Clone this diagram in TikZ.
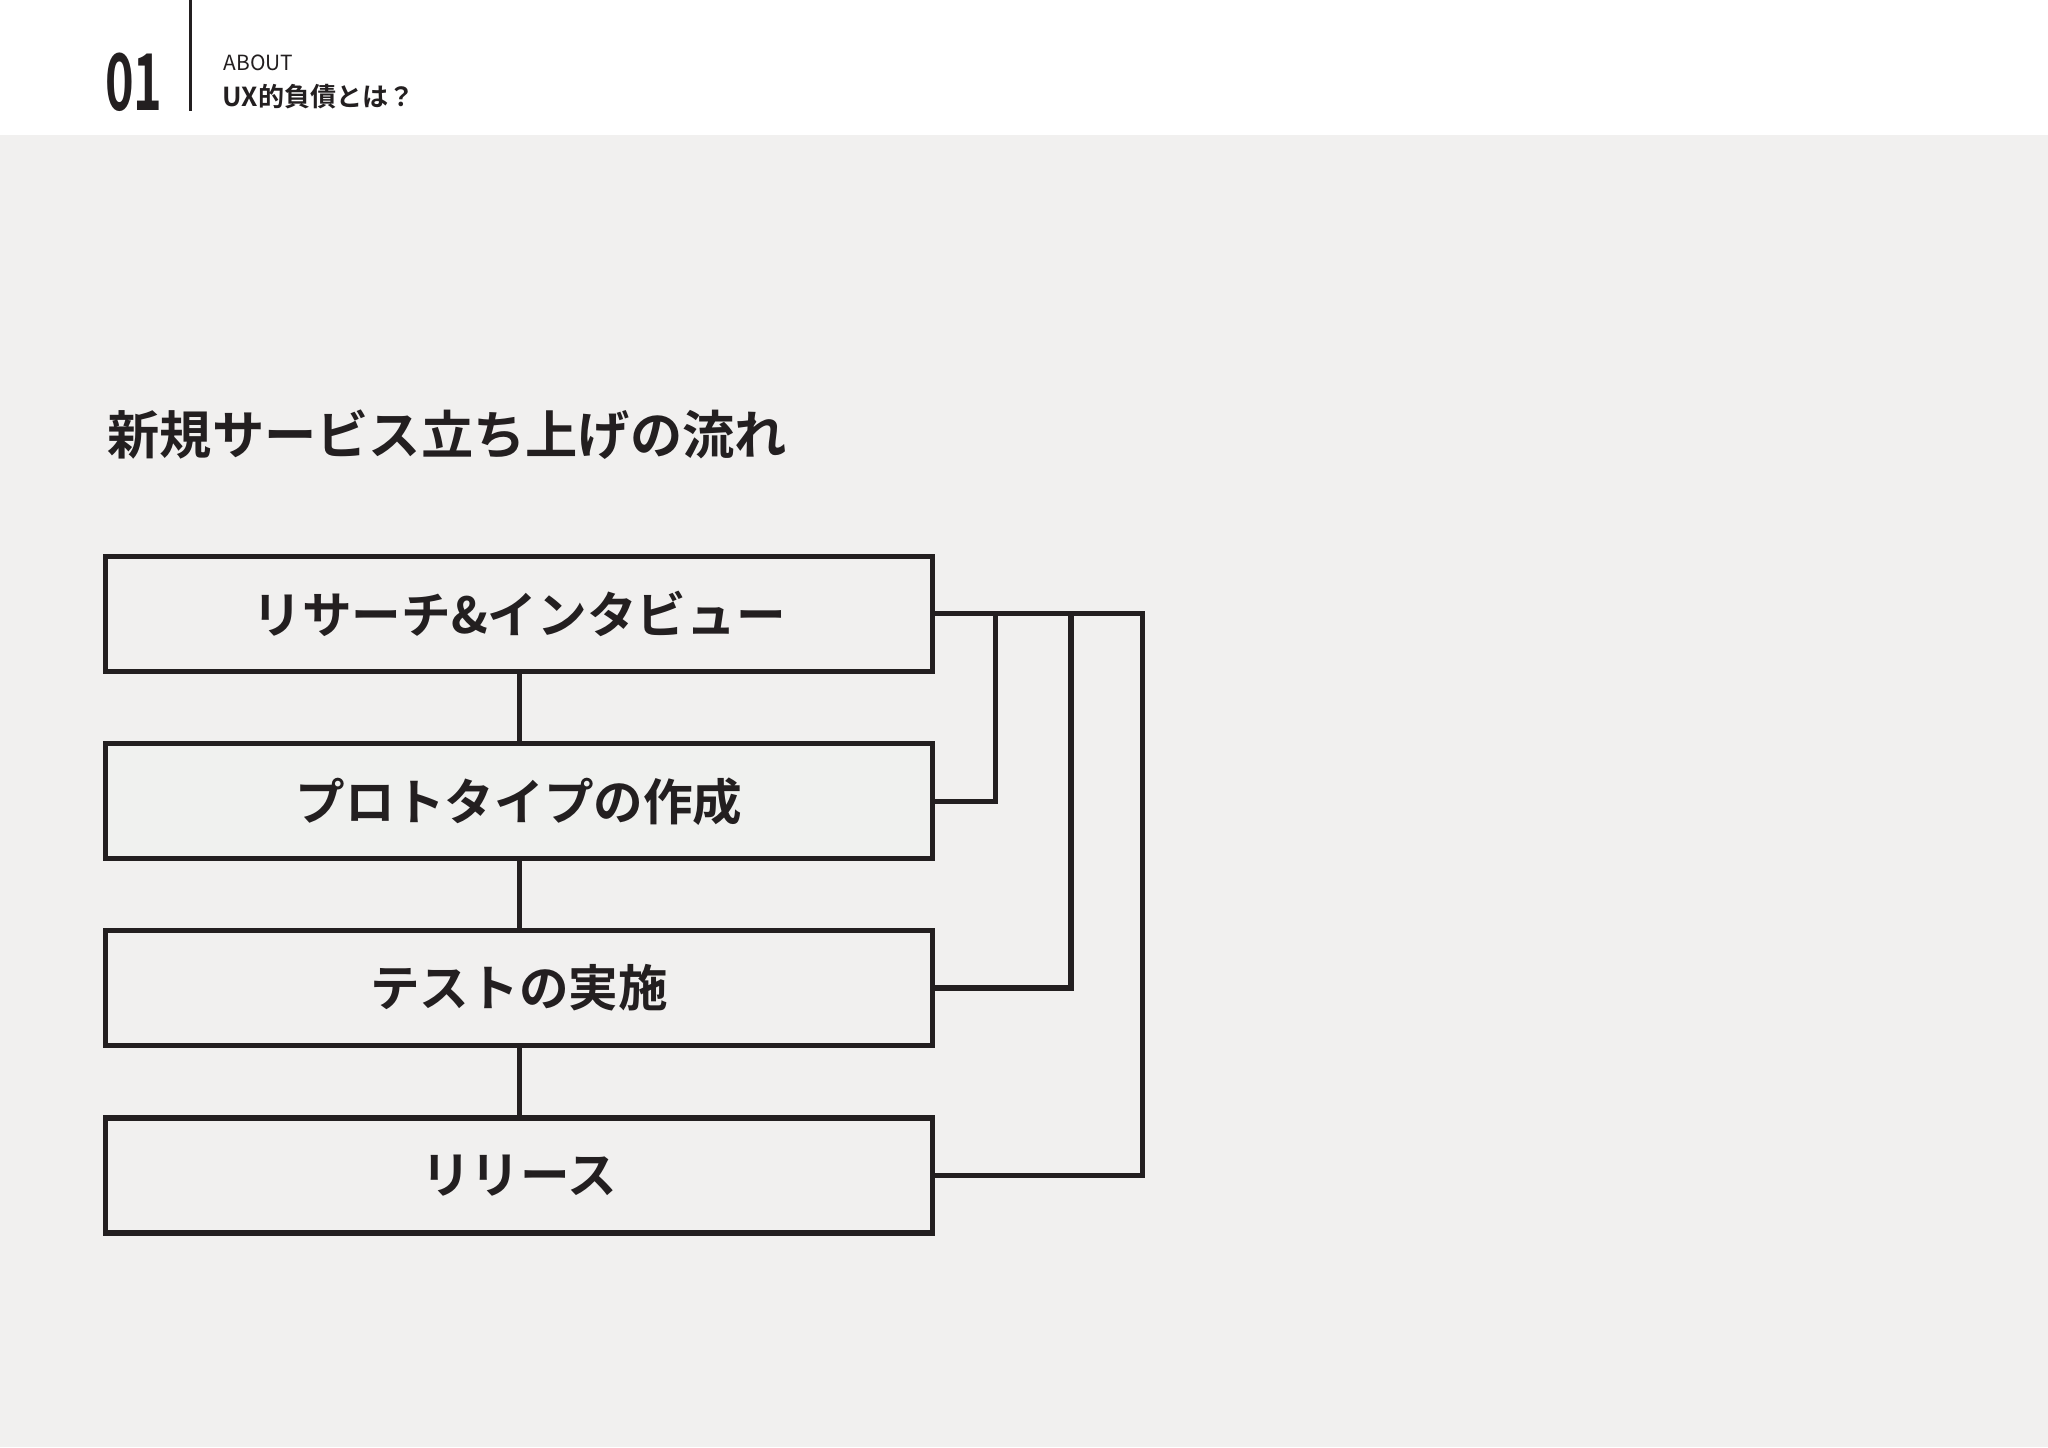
\documentclass[tikz,border=0pt]{standalone}
\usepackage{fontspec}
\setmainfont{Noto Sans CJK JP}
\newfontfamily\jpb{Noto Sans CJK JP Bold}
\definecolor{bg}{HTML}{F1F0EF}
\definecolor{ink}{HTML}{231F20}
\definecolor{gbox}{HTML}{F0F1EF}
\begin{document}
\begin{tikzpicture}[x=0.5pt,y=-0.5pt,
  stepbox/.style={draw=ink,line width=2pt,minimum width=316.5pt,minimum height=44pt,inner sep=0pt,font=\jpb\fontsize{19}{20}\selectfont,text=ink},
  link/.style={draw=ink,line width=2pt}]
\useasboundingbox (0,0) rectangle (1568,1108);
\fill[bg] (0,103) rectangle (1568,1108);
\fill[white] (0,0) rectangle (1568,103);
\node[anchor=west,inner sep=0pt,text=ink] (num) at (80,63) {\scalebox{0.62}[1]{\jpb\fontsize{30}{30}\selectfont 01}};
\draw[ink,line width=1pt] (146,0) -- (146,85);
\node[anchor=west,inner sep=0pt,text=ink,font=\fontsize{8}{9}\selectfont] (about) at (171,48) {ABOUT};
\node[anchor=west,inner sep=0pt,text=ink,font=\jpb\fontsize{10}{11}\selectfont] (ux) at (170,74) {UX的負債とは？};
\node[anchor=west,inner sep=0pt,text=ink,font=\jpb\fontsize{20}{22}\selectfont] (title) at (82,333) {新規サービス立ち上げの流れ};
\node[stepbox,fill=bg] (b1) at (397.5,470) {リサーチ\&インタビュー};
\node[stepbox,fill=gbox] (b2) at (397.5,613.5) {プロトタイプの作成};
\node[stepbox,fill=bg] (b3) at (397.5,756.5) {テストの実施};
\node[stepbox,fill=bg] (b4) at (397.5,900) {リリース};
\draw[link] (b1) -- (b2); \draw[link] (b2) -- (b3); \draw[link] (b3) -- (b4);
\coordinate (c1) at (762,470); \coordinate (c2) at (820,470); \coordinate (c3) at (875,470);
\draw[link] (b1.east) -- (c3) |- (b4.east);
\draw[link] (c1) |- (b2.east);
\draw[link] (c2) |- (b3.east);
\end{tikzpicture}
\end{document}
